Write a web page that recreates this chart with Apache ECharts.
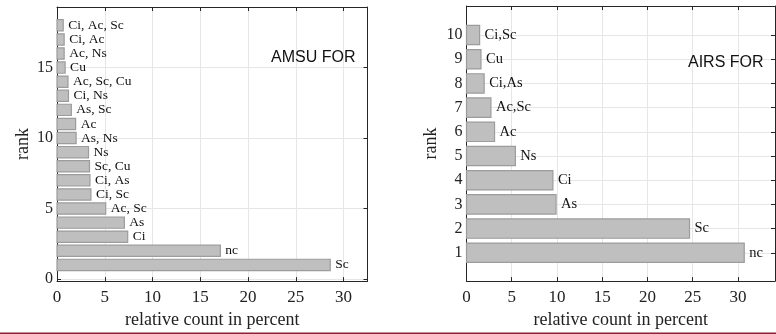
<!DOCTYPE html>
<html>
<head>
<meta charset="utf-8">
<script src="https://cdn.jsdelivr.net/npm/echarts@6/dist/echarts.min.js"></script>
<style>
  html, body { margin: 0; padding: 0; background: #fff; }
  #chart { width: 776px; height: 334px; }
</style>
</head>
<body>
<div id="chart"></div>
<script>
// AMSU FOR: cloud types by rank (rank 1 first)
const amsuLabels = ['Sc', 'nc', 'Ci', 'As', 'Ac, Sc', 'Ci, Sc', 'Ci, As', 'Sc, Cu', 'Ns', 'As, Ns',
  'Ac', 'As, Sc', 'Ci, Ns', 'Ac, Sc, Cu', 'Cu', 'Ac, Ns', 'Ci, Ac', 'Ci, Ac, Sc'];
const amsuValues = [28.6, 17.1, 7.4, 7.05, 5.1, 3.55, 3.45, 3.4, 3.3, 2.0,
  1.95, 1.5, 1.2, 1.15, 0.85, 0.75, 0.75, 0.65];
const amsuRankTicks = [0, 5, 10, 15];

// AIRS FOR
const airsLabels = ['nc', 'Sc', 'As', 'Ci', 'Ns', 'Ac', 'Ac,Sc', 'Ci,As', 'Cu', 'Ci,Sc'];
const airsValues = [30.7, 24.65, 9.9, 9.55, 5.4, 3.1, 2.7, 1.95, 1.6, 1.45];
const airsRankTicks = [1, 2, 3, 4, 5, 6, 7, 8, 9, 10];

const serif = 'Liberation Serif';
const axisColor = '#262626';
const gridColor = '#e6e6e6';

// horizontal bar drawn through the axes' own scales
const barRenderer = (labels, thick, fontSize) => (params, api) => {
  const v = api.value(0), r = api.value(1);
  const start = api.coord([0, r]);
  const end = api.coord([v, r]);
  const h = api.size([0, thick])[1];
  return {
    type: 'group',
    children: [
      {
        type: 'rect',
        shape: { x: start[0], y: start[1] - h / 2, width: end[0] - start[0], height: h },
        style: { fill: '#bfbfbf', stroke: '#9c9c9c', lineWidth: 1.2 }
      },
      {
        type: 'text',
        x: end[0] + 5, y: end[1],
        style: {
          text: labels[params.dataIndex],
          font: fontSize + 'px "' + serif + '"',
          fill: '#111',
          verticalAlign: 'middle',
          align: 'left'
        }
      }
    ]
  };
};

const xAxisBase = (gridIndex, max) => ({
  gridIndex: gridIndex,
  type: 'value',
  min: 0,
  max: max,
  interval: 5,
  axisLine: { show: true, onZero: false, lineStyle: { color: axisColor } },
  axisTick: { show: true, inside: true, length: 4, lineStyle: { color: axisColor } },
  axisLabel: {
    fontFamily: serif, fontSize: 17, color: '#222', margin: 8,
    showMaxLabel: false,
    formatter: v => (v % 5 === 0 ? String(v) : '')
  },
  splitLine: { show: true, lineStyle: { color: gridColor } },
  name: 'relative count in percent',
  nameLocation: 'middle',
  nameGap: 29,
  nameTextStyle: { fontFamily: serif, fontSize: 18, color: '#222' }
});

const xAxisTop = (gridIndex, max) => ({
  gridIndex: gridIndex,
  type: 'value',
  position: 'top',
  min: 0,
  max: max,
  interval: 5,
  axisLine: { show: true, onZero: false, lineStyle: { color: axisColor } },
  axisTick: { show: true, inside: true, length: 4, lineStyle: { color: axisColor } },
  axisLabel: { show: false },
  splitLine: { show: false }
});

const yAxisBase = (gridIndex, min, max, ticks, nameGap) => ({
  gridIndex: gridIndex,
  type: 'value',
  min: min,
  max: max,
  axisLine: { show: true, onZero: false, lineStyle: { color: axisColor } },
  axisTick: { show: true, inside: true, length: 4, customValues: ticks, lineStyle: { color: axisColor } },
  axisLabel: { fontFamily: serif, fontSize: 16, color: '#222', margin: 4, customValues: ticks },
  splitLine: { show: true, lineStyle: { color: gridColor } },
  name: 'rank',
  nameLocation: 'middle',
  nameRotate: 90,
  nameGap: nameGap,
  nameTextStyle: { fontFamily: serif, fontSize: 18, color: '#222' }
});

const yAxisRight = (gridIndex, min, max, ticks) => ({
  gridIndex: gridIndex,
  type: 'value',
  position: 'right',
  min: min,
  max: max,
  axisLine: { show: true, onZero: false, lineStyle: { color: axisColor } },
  axisTick: { show: true, inside: true, length: 4, customValues: ticks, lineStyle: { color: axisColor } },
  axisLabel: { show: false },
  splitLine: { show: false }
});

const chart = echarts.init(document.getElementById('chart'), null, { renderer: 'canvas' });

chart.setOption({
  animation: false,
  backgroundColor: '#fff',
  grid: [
    { left: 57, top: 7, width: 310.5, height: 275 },
    { left: 466.5, top: 6, width: 308.5, height: 276.7 }
  ],
  xAxis: [
    xAxisBase(0, 32.5),
    xAxisBase(1, 34.1),
    xAxisTop(0, 32.5),
    xAxisTop(1, 34.1)
  ],
  yAxis: [
    yAxisBase(0, -0.15, 19.3, amsuRankTicks, 25),
    yAxisBase(1, -0.17, 11.2, airsRankTicks, 26),
    yAxisRight(0, -0.15, 19.3, amsuRankTicks),
    yAxisRight(1, -0.17, 11.2, airsRankTicks)
  ],
  title: [
    {
      text: 'AMSU FOR', left: 266, top: 45,
      textStyle: { fontFamily: 'Liberation Sans', fontSize: 16, fontWeight: 'normal', color: '#111' }
    },
    {
      text: 'AIRS FOR', left: 683, top: 50,
      textStyle: { fontFamily: 'Liberation Sans', fontSize: 16, fontWeight: 'normal', color: '#111' }
    }
  ],
  series: [
    {
      type: 'custom',
      xAxisIndex: 0, yAxisIndex: 0,
      renderItem: barRenderer(amsuLabels, 0.8, 13.5),
      data: amsuValues.map((v, i) => [v, i + 1]),
      clip: false
    },
    {
      type: 'custom',
      xAxisIndex: 1, yAxisIndex: 1,
      renderItem: barRenderer(airsLabels, 0.8, 14.5),
      data: airsValues.map((v, i) => [v, i + 1]),
      clip: false
    }
  ],
  graphic: [
    {
      type: 'rect',
      shape: { x: 0, y: 332.5, width: 776, height: 1.5 },
      style: { fill: '#8a2438' },
      silent: true
    }
  ]
});
</script>
</body>
</html>
